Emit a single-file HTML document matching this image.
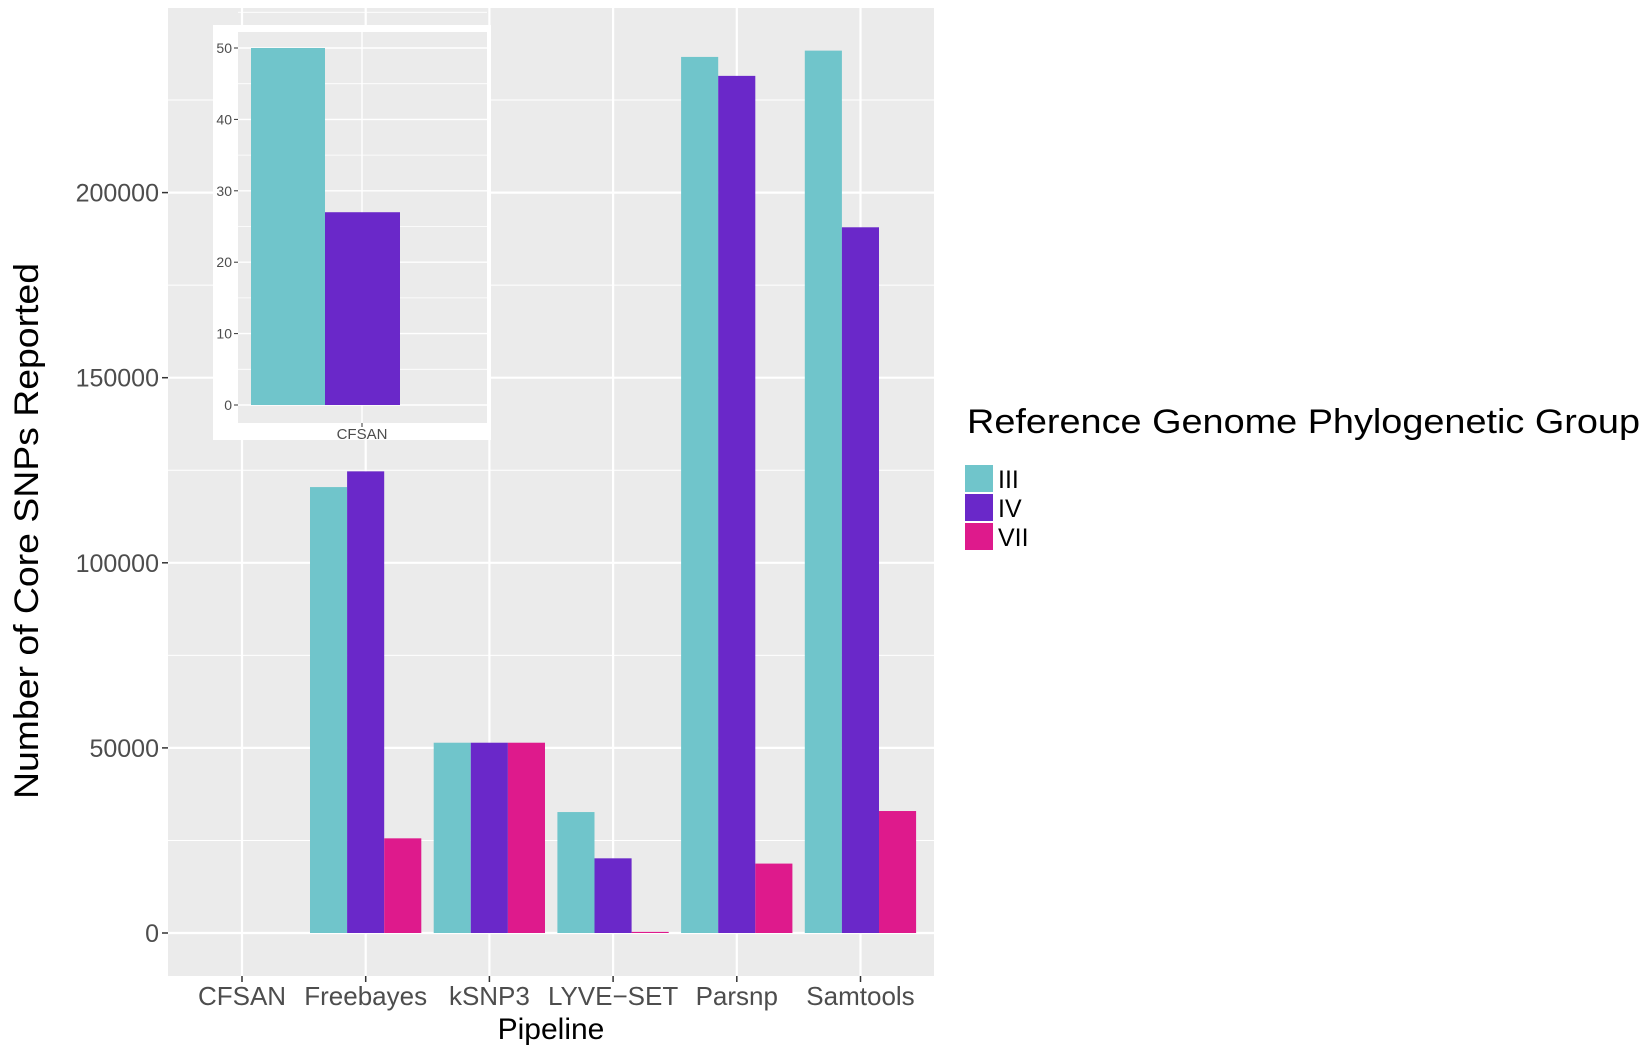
<!DOCTYPE html>
<html><head><meta charset="utf-8"><style>
html,body{margin:0;padding:0;background:#fff;}
svg{display:block;font-family:"Liberation Sans",sans-serif;}
</style></head><body>
<svg id="s" width="1645" height="1052" viewBox="0 0 1645 1052" xmlns="http://www.w3.org/2000/svg">
<rect x="168" y="8" width="766" height="968" fill="#EBEBEB"/>
<g id="grid"></g>
<g id="bars"></g>
<g id="inset"></g>
<g id="ax"></g>
<text x="38" y="531" font-size="34" fill="#000" text-anchor="middle" textLength="536" lengthAdjust="spacingAndGlyphs" transform="rotate(-90 38 531)">Number of Core SNPs Reported</text>
<text x="551" y="1039" font-size="30" fill="#000" text-anchor="middle">Pipeline</text>
<text x="967" y="433" font-size="34" fill="#000" textLength="673" lengthAdjust="spacingAndGlyphs">Reference Genome Phylogenetic Group</text>
<rect x="965" y="465" width="28" height="27" fill="#70C5CB"/>
<rect x="965" y="494" width="28" height="27" fill="#6A28C9"/>
<rect x="965" y="523" width="28" height="27" fill="#DE1A8C"/>
<text x="998" y="488" font-size="25">III</text>
<text x="998" y="517" font-size="25">IV</text>
<text x="998" y="546" font-size="25">VII</text>
</svg>
<script>
const NS="http://www.w3.org/2000/svg";
function el(p,t,a,txt){const e=document.createElementNS(NS,t);for(const k in a)e.setAttribute(k,a[k]);if(txt!==undefined)e.textContent=txt;document.getElementById(p).appendChild(e);return e;}
const y=v=>933-v*185.1/50000;
for(let v=25000;v<=225000;v+=50000)el("grid","line",{x1:168,x2:934,y1:y(v),y2:y(v),stroke:"#fff","stroke-width":1});
for(let v=0;v<=200000;v+=50000){el("grid","line",{x1:168,x2:934,y1:y(v),y2:y(v),stroke:"#fff","stroke-width":2.2});
 el("ax","line",{x1:162,x2:168,y1:y(v),y2:y(v),stroke:"#333","stroke-width":1.5});
 el("ax","text",{x:159,y:y(v)+9,"font-size":25,"text-anchor":"end",fill:"#4d4d4d"},String(v));}
const cats=["CFSAN","Freebayes","kSNP3","LYVE\u2212SET","Parsnp","Samtools"];
const cx=[242,365.7,489.4,613.1,736.8,860.5];
const vals=[[50,27,0],[120455,124700,25570],[51400,51400,51400],[32670,20170,300],[236650,231530,18750],[238350,190630,32950]];
const cols=["#70C5CB","#6A28C9","#DE1A8C"];
cx.forEach((c,i)=>{el("grid","line",{x1:c,x2:c,y1:8,y2:976,stroke:"#fff","stroke-width":2.2});
 el("ax","line",{x1:c,x2:c,y1:976,y2:982,stroke:"#333","stroke-width":1.5});
 el("ax","text",{x:c,y:1005,"font-size":26,"text-anchor":"middle",fill:"#4d4d4d"},cats[i]);
 vals[i].forEach((v,j)=>{if(v<=100)return;const x0=c-55.7+j*37.1;const t=y(v);el("bars","rect",{x:x0,y:t,width:37.1,height:933-t,fill:cols[j]});});
});
// inset
el("inset","rect",{x:213,y:25,width:278,height:415,fill:"#fff"});
el("inset","rect",{x:238,y:32,width:249,height:391,fill:"#EBEBEB"});
const iy=v=>405-v*7.14;
for(let v=5;v<=55;v+=10)el("inset","line",{x1:238,x2:487,y1:iy(v),y2:iy(v),stroke:"#fff","stroke-width":0.8});
for(let v=0;v<=50;v+=10){el("inset","line",{x1:238,x2:487,y1:iy(v),y2:iy(v),stroke:"#fff","stroke-width":1.4});
 el("inset","line",{x1:234,x2:238,y1:iy(v),y2:iy(v),stroke:"#333","stroke-width":1});
 el("inset","text",{x:232,y:iy(v)+5,"font-size":14,"text-anchor":"end",fill:"#4d4d4d"},String(v));}
el("inset","line",{x1:362,x2:362,y1:32,y2:423,stroke:"#fff","stroke-width":1.4});
el("inset","rect",{x:251,y:iy(50),width:74,height:405-iy(50),fill:"#70C5CB"});
el("inset","rect",{x:325,y:iy(27),width:75,height:405-iy(27),fill:"#6A28C9"});
el("inset","line",{x1:362,x2:362,y1:423,y2:427,stroke:"#333","stroke-width":1});
el("inset","text",{x:362,y:439,"font-size":15,"text-anchor":"middle",fill:"#4d4d4d"},"CFSAN");
</script>
</body></html>
